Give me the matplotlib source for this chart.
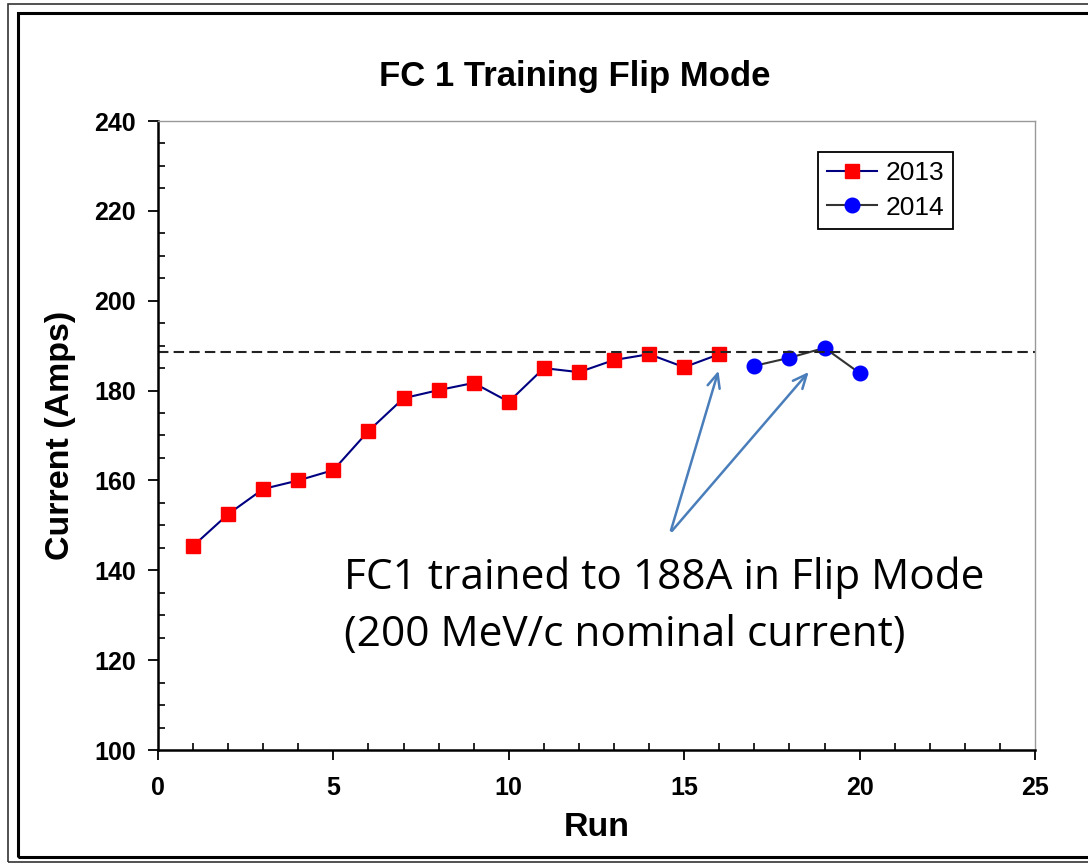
import matplotlib.pyplot as plt
from matplotlib.patches import Rectangle
from matplotlib.ticker import MultipleLocator

plt.rcParams['font.family'] = ['Liberation Sans', 'DejaVu Sans']

run_2013 = [1, 2, 3, 4, 5, 6, 7, 8, 9, 10, 11, 12, 13, 14, 15, 16]
amps_2013 = [145.4, 152.5, 158.1, 160.0, 162.3, 171.0, 178.3, 180.1, 181.7, 177.5,
             185.0, 184.1, 186.8, 188.1, 185.2, 188.1]
run_2014 = [17, 18, 19, 20]
amps_2014 = [185.5, 187.3, 189.5, 183.9]
trained_level = 188.5

fig = plt.figure(figsize=(10.88, 8.64), dpi=100)

# double border around the figure
fig.patches.append(Rectangle((8/1088, 1-862/864), 1.2, 858/864, transform=fig.transFigure,
                             fill=False, lw=1.2, ec='#333333'))
fig.patches.append(Rectangle((18/1088, 1-857/864), 1.2, 844/864, transform=fig.transFigure,
                             fill=False, lw=2.2, ec='black'))

ax = fig.add_axes([158/1088, 1-750/864, 877/1088, 629/864])
ax.plot(run_2013, amps_2013, color='#000080', lw=1.5, marker='s', ms=10,
        mfc='red', mec='red', label='2013')
ax.plot(run_2014, amps_2014, color='#333333', lw=1.5, marker='o', ms=10.5,
        mfc='blue', mec='blue', label='2014')
ax.axhline(trained_level, color='#222222', lw=1.5, ls=(0, (5, 2.5)))

ax.set_xlim(0, 25)
ax.set_ylim(100, 240)
ax.xaxis.set_major_locator(MultipleLocator(5))
ax.xaxis.set_minor_locator(MultipleLocator(1))
ax.yaxis.set_major_locator(MultipleLocator(20))
ax.yaxis.set_minor_locator(MultipleLocator(5))
ax.tick_params(which='major', direction='out', length=7, width=1.3, labelsize=18)
ax.tick_params(axis='y', which='major', pad=9)
ax.tick_params(axis='x', which='major', pad=12)
ax.tick_params(which='minor', direction='in', length=5, width=1.2)
for lab in ax.get_xticklabels() + ax.get_yticklabels():
    lab.set_fontweight('bold')
for s in ['left', 'bottom']:
    ax.spines[s].set_linewidth(1.8)
    ax.spines[s].set_color('black')
for s in ['top', 'right']:
    ax.spines[s].set_linewidth(1.0)
    ax.spines[s].set_color('#999999')

ax.set_title('FC 1 Training Flip Mode', fontsize=25, fontweight='bold', pad=25, x=0.4755)
ax.set_xlabel('Run', fontsize=24.5, fontweight='bold', labelpad=8)
ax.set_ylabel('Current (Amps)', fontsize=24.5, fontweight='bold', labelpad=13)

leg = ax.legend(loc='upper right', bbox_to_anchor=(0.9065, 0.951), fontsize=19,
                fancybox=False, edgecolor='black', framealpha=1, handlelength=1.9,
                borderpad=0.35, labelspacing=0.4, handletextpad=0.3, borderaxespad=0)
leg.get_frame().set_linewidth(1.3)

arrow_kw = dict(arrowstyle='->,head_length=1.0,head_width=0.45', color='#4a7ebb', lw=1.8)
ax.annotate('', xy=(16.0, 185.0), xytext=(14.6, 148.3), arrowprops=arrow_kw)
ax.annotate('', xy=(18.6, 184.6), xytext=(14.6, 148.3), arrowprops=arrow_kw)

ax.text(5.3, 132.0, 'FC1 trained to 188A in Flip Mode\n(200 MeV/c nominal current)',
        fontsize=30.5, family=['Open Sans', 'DejaVu Sans'], va='center', ha='left',
        linespacing=1.45)

fig.savefig('out.png', dpi=100, facecolor='white')
